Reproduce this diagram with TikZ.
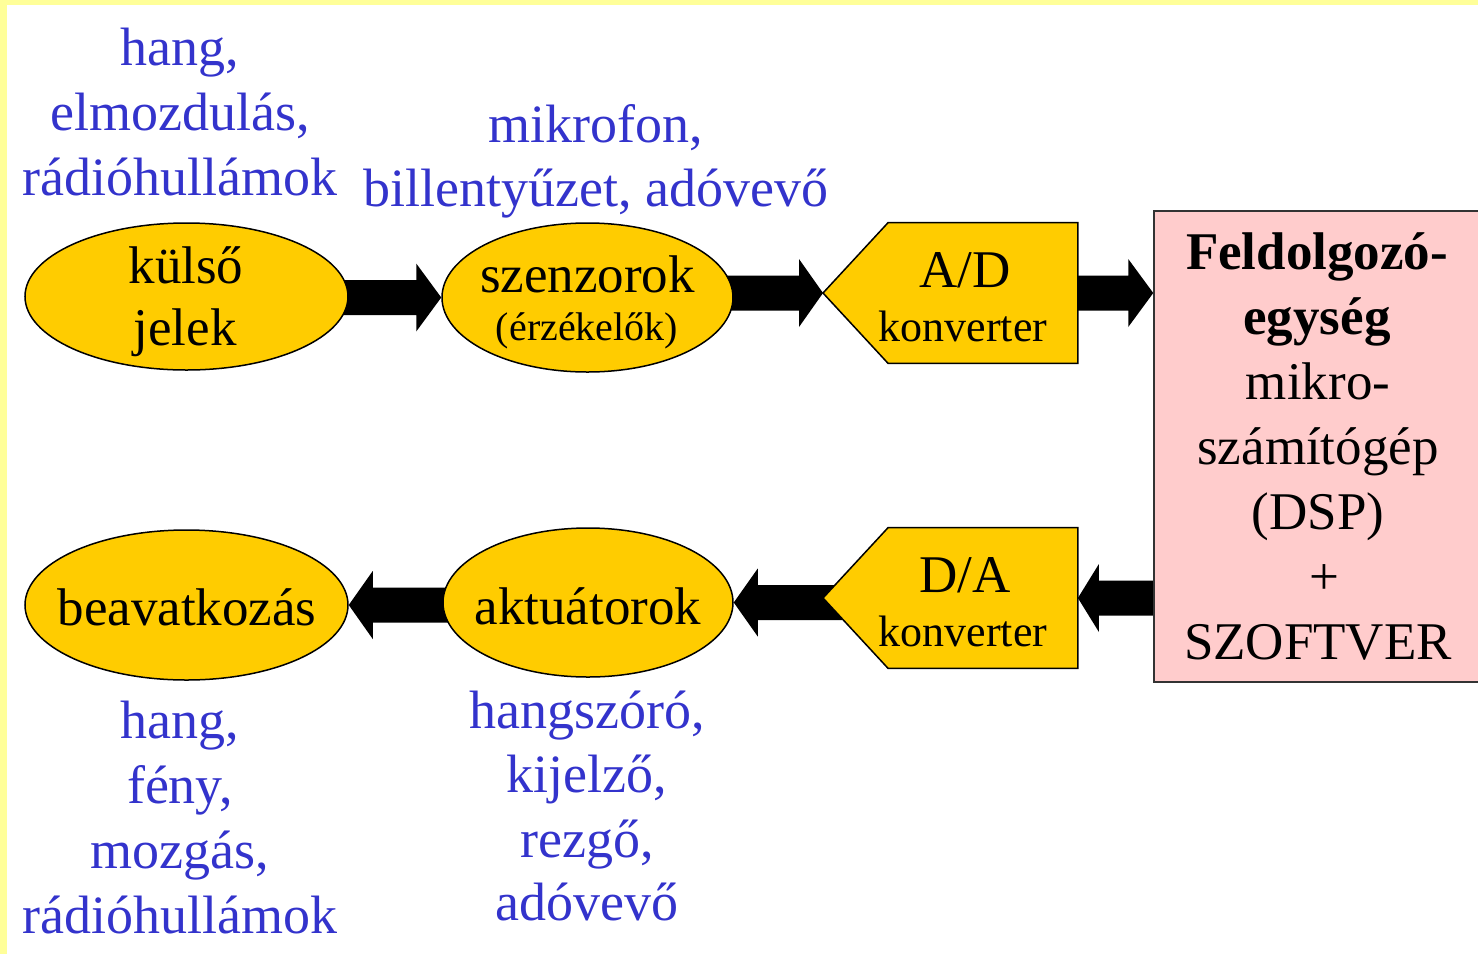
\documentclass[tikz,border=0pt]{standalone}
\usepackage{fontspec}
\setmainfont{Liberation Serif}
\usetikzlibrary{shapes.geometric,calc,backgrounds}

\definecolor{signalblue}{RGB}{51,51,204}
\definecolor{shapegold}{RGB}{255,204,0}
\definecolor{unitpink}{RGB}{255,204,204}
\definecolor{framey}{RGB}{255,255,153}

% block arrow: shaft from #1, tip at #2 (tip height taken from #2),
% #3 = signed offset of the head base from the tip
\newcommand\blockarrow[3]{%
  \fill let \p1=(#1), \p2=(#2) in
    (\x1,\y2+8.75pt) -- ({\x2+(#3)},\y2+8.75pt) -- ({\x2+(#3)},\y2+17pt)
    -- (\x2,\y2) -- ({\x2+(#3)},\y2-17pt) -- ({\x2+(#3)},\y2-8.75pt)
    -- (\x1,\y2-8.75pt) -- cycle;}

\begin{document}
\begin{tikzpicture}[x=0.5pt,y=-0.5pt,
  blob/.style={ellipse,draw=black,line width=0.75pt,fill=shapegold,inner sep=0pt},
  unit/.style={rectangle,inner sep=0pt},
  lbl/.style={inner sep=0pt,anchor=base,font=\fontsize{26.5}{31}\selectfont},
  small/.style={lbl,font=\fontsize{22}{26}\selectfont},
  tiny/.style={lbl,font=\fontsize{20}{24}\selectfont},
  note/.style={inner sep=0pt,anchor=base,text=signalblue,font=\fontsize{27}{32}\selectfont},
  outline/.style={draw=black,line width=0.75pt,fill=shapegold}]

\useasboundingbox (0,0) rectangle (1478,954);

% ---- shapes ----
\node[blob,minimum width=161.5pt,minimum height=73.5pt] (k)  at (186.5,296.5) {};
\node[blob,minimum width=145.5pt,minimum height=74.5pt] (s)  at (587.5,297.5) {};
\node[blob,minimum width=161.5pt,minimum height=75pt]   (bv) at (186.5,605) {};
\node[blob,minimum width=145pt,minimum height=74.5pt]   (ak) at (588,602.5) {};

% converters: rectangular body with a pointed left side
\node[unit,minimum width=94.5pt,minimum height=70pt] (ad) at (983,293) {};
\coordinate (adtip) at (823,293);
\draw[outline] (adtip) -- (ad.north west) -- (ad.north east) -- (ad.south east) -- (ad.south west) -- cycle;

\node[unit,minimum width=94.5pt,minimum height=70pt] (da) at (983,598) {};
\coordinate (datip) at (823,598);
\draw[outline] (datip) -- (da.north west) -- (da.north east) -- (da.south east) -- (da.south west) -- cycle;

% processing unit, running to the right edge
\node[rectangle,draw=black!80,line width=0.75pt,fill=unitpink,inner sep=0pt,
      minimum width=162.5pt,minimum height=235.5pt] (cpu) at (1316.5,446.5) {};

% ---- background and connectors ----
\begin{scope}[on background layer]
  \fill[framey] (0,0) rectangle (1478,954);
  \fill[white] (7,5) rectangle (1478,954);
  \blockarrow{k.center}{s.west}{-12.5pt}
  \blockarrow{s.center}{adtip}{-12pt}
  \blockarrow{ad.center}{ad.east -| cpu.west}{-12.5pt}
  \blockarrow{cpu.center}{da.east}{10.5pt}
  \blockarrow{da.center}{ak.east}{12pt}
  \blockarrow{ak.center}{bv.east}{12pt}
\end{scope}

% ---- labels in shapes ----
\node[lbl] (k1) at (186,283) {külső};
\node[lbl] (k2) at (185,345) {jelek};
\node[lbl] (s1) at (587.5,292) {szenzorok};
\node[tiny] (s2) at (587,340) {(érzékelők)};
\node[lbl] (ad1) at (965,287) {A/D};
\node[small] (ad2) at (963,341) {konverter};
\node[lbl] (da1) at (965,592) {D/A};
\node[small] (da2) at (963,646) {konverter};
\node[lbl] (bv1) at (187,625) {beavatkozás};
\node[lbl] (ak1) at (588,624) {aktuátorok};

\node[lbl,font=\fontsize{26.5}{31}\selectfont\bfseries] (c1) at (1317,269) {Feldolgozó-};
\node[lbl,font=\fontsize{26.5}{31}\selectfont\bfseries] (c2) at (1317,334) {egység};
\node[lbl] (c3) at (1318,399) {mikro-};
\node[lbl] (c4) at (1318,464) {számítógép};
\node[lbl] (c5) at (1318,529) {(DSP)};
\node[lbl] (c6) at (1324,594) {+};
\node[lbl] (c7) at (1318,659) {SZOFTVER};

% ---- blue notes ----
\node[note] (n1) at (180,65)  {hang,};
\node[note] (n2) at (180,130) {elmozdulás,};
\node[note] (n3) at (180,195) {rádióhullámok};

\node[note] (m1) at (596,142) {mikrofon,};
\node[note] (m2) at (596,206) {billentyűzet, adóvevő};

\node[note] (o1) at (180,738) {hang,};
\node[note] (o2) at (180,803) {fény,};
\node[note] (o3) at (180,868) {mozgás,};
\node[note] (o4) at (180,933) {rádióhullámok};

\node[note] (a1) at (587,728) {hangszóró,};
\node[note] (a2) at (587,792) {kijelző,};
\node[note] (a3) at (587,857) {rezgő,};
\node[note] (a4) at (587,920) {adóvevő};
\end{tikzpicture}
\end{document}
